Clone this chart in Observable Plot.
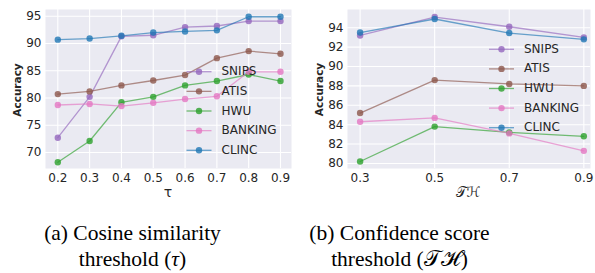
<!DOCTYPE html>
<html>
<head>
<meta charset="utf-8">
<script src="https://cdn.jsdelivr.net/npm/d3@7"></script>
<script src="https://cdn.jsdelivr.net/npm/@observablehq/plot@0.6"></script>
<style>
  html, body { margin: 0; padding: 0; background: #ffffff; }
  #wrap { position: relative; width: 595px; height: 273px; overflow: hidden; background: #fff; }
  .panel { position: absolute; top: 0; }
  .legend { position: absolute; top: 0; pointer-events: none; }
  .cap { position: absolute; font-family: "Liberation Serif", "Times New Roman", serif; font-size: 21.5px; color: #000; text-align: center; line-height: 26px; white-space: nowrap; }
</style>
</head>
<body>
<div id="wrap"></div>
<script>
// ---------- data ----------
const seriesNames = ["SNIPS", "ATIS", "HWU", "BANKING", "CLINC"];
const seriesColors = ["#9467bd", "#8c564b", "#2ca02c", "#e377c2", "#1f77b4"];

// (a) cosine similarity threshold tau
const tauValues = [0.2, 0.3, 0.4, 0.5, 0.6, 0.7, 0.8, 0.9];
const tauSNIPS   = [72.7, 80.2, 91.3, 91.5, 93.0, 93.2, 94.1, 94.1];
const tauATIS    = [80.7, 81.2, 82.3, 83.2, 84.2, 87.3, 88.6, 88.1];
const tauHWU     = [68.2, 72.1, 79.2, 80.2, 82.3, 83.1, 84.3, 83.1];
const tauBANKING = [78.7, 78.9, 78.5, 79.1, 79.8, 80.3, 84.8, 84.8];
const tauCLINC   = [90.7, 90.9, 91.4, 92.0, 92.2, 92.4, 94.9, 94.9];
const tauTicks = [0.2, 0.3, 0.4, 0.5, 0.6, 0.7, 0.8, 0.9];
const tauYTicks = [70, 75, 80, 85, 90, 95];

// (b) confidence score threshold TH
const thValues = [0.3, 0.5, 0.7, 0.9];
const thSNIPS   = [93.2, 95.1, 94.1, 93.0];
const thATIS    = [85.2, 88.6, 88.2, 88.0];
const thHWU     = [80.2, 83.8, 83.2, 82.8];
const thBANKING = [84.3, 84.7, 83.1, 81.3];
const thCLINC   = [93.5, 94.9, 93.45, 92.8];
const thTicks = [0.3, 0.5, 0.7, 0.9];
const thYTicks = [80, 82, 84, 86, 88, 90, 92, 94];

const captionA = ["(a) Cosine similarity", "threshold (<i>τ</i>)"];
const captionB = ["(b) Confidence score", "threshold (𝒯ℋ)"];

// ---------- build tables ----------
function table(xs, cols) {
  const rows = [];
  seriesNames.forEach((name, i) => {
    xs.forEach((x, j) => rows.push({series: name, x, y: cols[i][j]}));
  });
  return rows;
}
const dataA = table(tauValues, [tauSNIPS, tauATIS, tauHWU, tauBANKING, tauCLINC]);
const dataB = table(thValues, [thSNIPS, thATIS, thHWU, thBANKING, thCLINC]);

const FONT = "'DejaVu Sans', sans-serif";

function panel(data, opts) {
  return Plot.plot({
    width: 300,
    height: 205,
    marginLeft: opts.ml,
    marginRight: opts.mr,
    marginTop: 9,
    marginBottom: 37,
    style: {fontFamily: FONT, fontSize: "12px", color: "#262626", background: "transparent"},
    x: {domain: opts.xdom, ticks: opts.xticks, tickFormat: d3.format(".1f"), tickSize: 0, tickPadding: 5, label: null},
    y: {domain: opts.ydom, ticks: opts.yticks, tickSize: 0, tickPadding: 4, label: null},
    color: {domain: seriesNames, range: seriesColors},
    marks: [
      Plot.frame({fill: "#eaeaf2", stroke: null}),
      Plot.gridX(opts.xticks, {stroke: "#ffffff", strokeOpacity: 1, strokeWidth: 1.1}),
      Plot.gridY(opts.yticks, {stroke: "#ffffff", strokeOpacity: 1, strokeWidth: 1.1}),
      Plot.axisX({ticks: opts.xticks, tickFormat: d3.format(".1f"), tickSize: 0, tickPadding: 5, label: null, fontSize: 12}),
      Plot.axisY({ticks: opts.yticks, tickSize: 0, tickPadding: 4, label: null, fontSize: 12}),
      Plot.line(data, {x: "x", y: "y", z: "series", stroke: "series", strokeWidth: 1.3, strokeOpacity: 0.65}),
      Plot.dot(data, {x: "x", y: "y", fill: "series", r: 3.2, fillOpacity: 0.8, stroke: null})
    ]
  });
}

const wrap = document.getElementById("wrap");

const pA = panel(dataA, {ml: 45, mr: 9, xdom: [0.1613, 0.9346], ydom: [67.05, 96.23], xticks: tauTicks, yticks: tauYTicks});
pA.classList.add("panel"); pA.style.left = "0px";
wrap.appendChild(pA);

const pB = panel(dataB, {ml: 52, mr: 5, xdom: [0.2662, 0.9179], ydom: [79.48, 95.88], xticks: thTicks, yticks: thYTicks});
pB.classList.add("panel"); pB.style.left = "295px";
wrap.appendChild(pB);

// axis titles + legends overlay
function overlay(left, opts) {
  const svg = d3.select(wrap).append("svg")
    .attr("class", "legend")
    .attr("width", 300).attr("height", 205)
    .style("left", left + "px");
  svg.append("text")
    .attr("transform", `translate(${opts.ylabX},${opts.ylabY}) rotate(-90)`)
    .attr("text-anchor", "middle").attr("dominant-baseline", "middle")
    .attr("font-family", FONT).attr("font-size", 10.5).attr("font-weight", "bold")
    .attr("fill", "#262626").text("Accuracy");
  svg.append("text")
    .attr("x", opts.xlabX).attr("y", opts.xlabY)
    .attr("text-anchor", "middle").attr("dominant-baseline", "middle")
    .attr("font-family", opts.xlabFont).attr("font-size", opts.xlabSize)
    .attr("fill", "#262626").text(opts.xlab);
  seriesNames.forEach((name, i) => {
    const y = opts.legY + i * opts.legStep;
    const g = svg.append("g");
    g.append("line").attr("x1", opts.legX).attr("x2", opts.legX + 25).attr("y1", y).attr("y2", y)
      .attr("stroke", seriesColors[i]).attr("stroke-width", 1.3).attr("stroke-opacity", 0.65);
    g.append("circle").attr("cx", opts.legX + 12.5).attr("cy", y).attr("r", 3.2)
      .attr("fill", seriesColors[i]).attr("fill-opacity", 0.8);
    g.append("text").attr("x", opts.legX + 35).attr("y", y)
      .attr("dominant-baseline", "middle")
      .attr("font-family", FONT).attr("font-size", 12).attr("fill", "#262626").text(name);
  });
}
overlay(0, {ylabX: 18, ylabY: 90, xlabX: 168, xlabY: 193, xlab: "τ", xlabFont: FONT, xlabSize: 14,
            legX: 186.5, legY: 71.7, legStep: 19.65});
overlay(295, {ylabX: 25, ylabY: 89.5, xlabX: 173, xlabY: 193, xlab: "𝒯ℋ", xlabFont: "'DejaVu Sans', 'Noto Sans', serif", xlabSize: 14,
            legX: 194, legY: 49.3, legStep: 19.6});

// captions
function caption(lines, cx) {
  lines.forEach((t, i) => {
    const d = document.createElement("div");
    d.className = "cap";
    d.style.left = (cx - 150) + "px";
    d.style.width = "300px";
    d.style.top = (220 + i * 26) + "px";
    d.innerHTML = t;
    wrap.appendChild(d);
  });
}
caption(captionA, 132.5);
caption(captionB, 399.5);
</script>
</body>
</html>
